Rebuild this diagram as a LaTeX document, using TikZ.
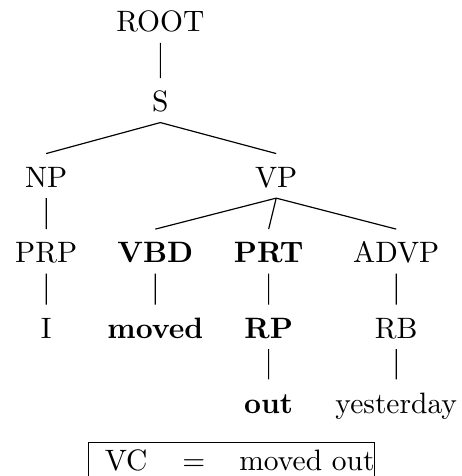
\documentclass[tikz,border=0pt]{standalone}
\usepackage{tikz}
\usepackage{amsmath}

\begin{document}
\begin{tikzpicture}
	\tikzstyle{every node}=[anchor=base,text height=7.7pt,text depth=0pt,inner ysep=3.5pt];
	\useasboundingbox (0,0) rectangle (5.5,-5.67);
	\node (root) at (1.91,-0.38) {ROOT};
	\node (s) at (1.91,-1.33) {S};
	\node (np) at (0.55,-2.23) {NP};
	\node (vp) at (3.29,-2.23) {VP};
	\node (prp) at (0.55,-3.13) {PRP};
	\node (vbd) at (1.85,-3.13) {\textbf{VBD}};
	\node (prt) at (3.2,-3.13) {\textbf{PRT}};
	\node (advp) at (4.72,-3.13) {ADVP};
	\node (i) at (0.55,-4.03) {I};
	\node (moved) at (1.85,-4.03) {\textbf{moved}};
	\node (rp) at (3.2,-4.03) {\textbf{RP}};
	\node (rb) at (4.72,-4.03) {RB};
	\node (out) at (3.2,-4.92) {\textbf{out}};
	\node (yest) at (4.72,-4.92) {yesterday};
	\node[draw,text height=6.9pt,text depth=2pt,inner ysep=2.6pt,inner xsep=0pt] (vc) at (2.76,-5.6) {\hspace{5.4pt}VC\hspace{11.9pt}$=$\hspace{11.5pt}moved out\hspace{3.4pt}};
	\draw (root.south) -- (s.north)
	(s.south) -- (np.north)
	(s.south) -- (vp.north)
	(np.south) -- (prp.north)
	(vp.south) -- (vbd.north)
	(vp.south) -- (prt.north)
	(vp.south) -- (advp.north)
	(prp.south) -- (i.north)
	(vbd.south) -- (moved.north)
	(prt.south) -- (rp.north)
	(advp.south) -- (rb.north)
	(rp.south) -- (out.north)
	(rb.south) -- (yest.north);
\end{tikzpicture}
\end{document}
